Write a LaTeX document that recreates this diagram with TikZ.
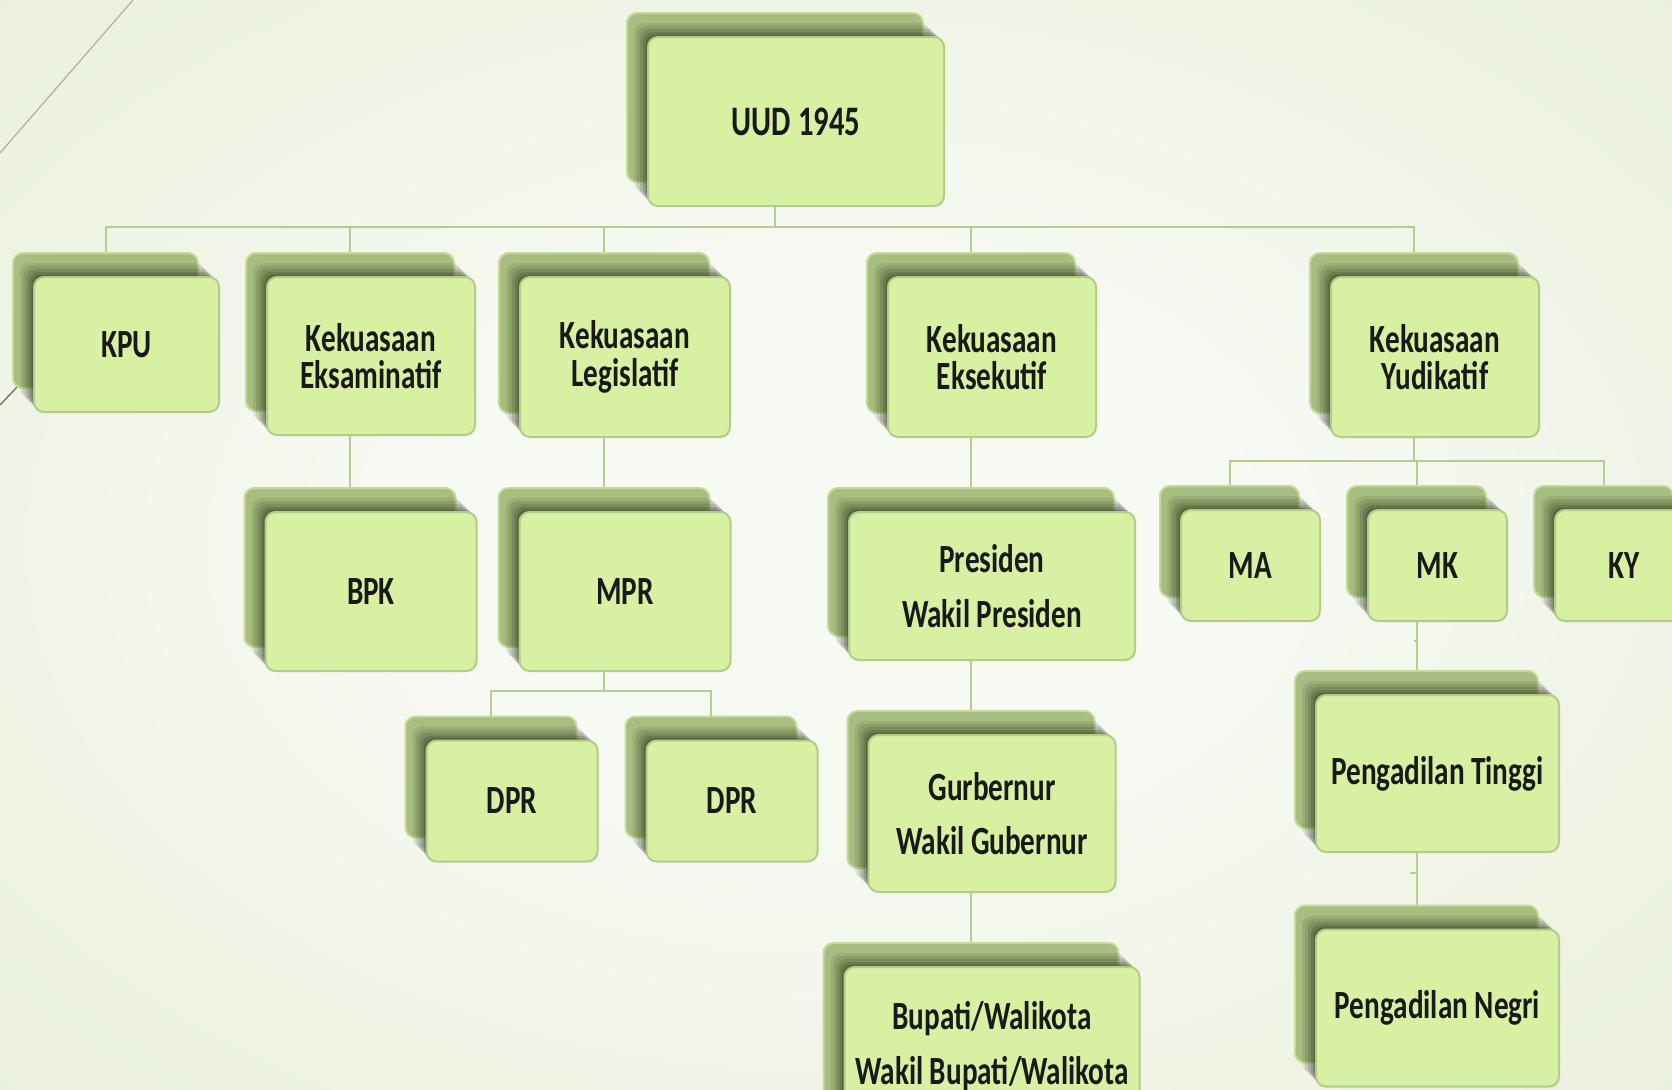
\documentclass[tikz,border=0pt]{standalone}
\usepackage{fontspec}
\usepackage{tikz}
\usetikzlibrary{positioning, shadows}
\newfontfamily\orgfont[FakeStretch=0.73]{Carlito}

\definecolor{frontgreen}{RGB}{216,240,162}
\definecolor{frontedge}{RGB}{178,204,138}
\definecolor{backgreen}{RGB}{168,189,128}
\definecolor{backedge}{RGB}{194,220,150}
\definecolor{shadowdark}{RGB}{36,46,22}
\definecolor{linegreen}{RGB}{181,205,142}
\definecolor{bginner}{RGB}{247,249,243}
\definecolor{bgouter}{RGB}{226,235,206}
\definecolor{decogray}{RGB}{176,176,150}
\definecolor{decodark}{RGB}{110,100,80}

\pgfdeclarelayer{background}
\pgfsetlayers{background,main}
\pgfdeclareradialshading{slidebg}{\pgfpoint{0bp}{0bp}}{color(0bp)=(bginner); color(12bp)=(bginner); color(50bp)=(bgouter)}

\tikzstyle{orgbox}=[rectangle, rounded corners=5pt, draw=frontedge, line width=1pt,
fill=frontgreen, align=center, inner sep=0pt, text=black!90,
font=\orgfont\bfseries\fontsize{20}{18.7}\selectfont,
general shadow={shadow xshift=-10.5pt, shadow yshift=12pt, fill=backgreen, draw=backedge, line width=1pt},
general shadow={shadow xshift=-7pt, shadow yshift=7pt, fill=shadowdark, opacity=.1},
general shadow={shadow xshift=-5.5pt, shadow yshift=5.5pt, fill=shadowdark, opacity=.12},
general shadow={shadow xshift=-4pt, shadow yshift=4pt, fill=shadowdark, opacity=.15},
general shadow={shadow xshift=-2.5pt, shadow yshift=2.5pt, fill=shadowdark, opacity=.2},
general shadow={shadow xshift=-1.2pt, shadow yshift=1.2pt, fill=shadowdark, opacity=.25}]
\tikzstyle{edgepath}=[draw=linegreen, line width=1pt]
\tikzstyle{decoline}=[draw=decogray, line width=0.6pt]
\tikzset{elbow/.style={to path={([xshift=-10.5pt]\tikztostart.center) |- (#1) -| ([xshift=-10.5pt]\tikztotarget.center)}},
drop/.style={to path={([xshift=-10.5pt]\tikztostart.center) -| ([xshift=-10.5pt]\tikztotarget.center)}}}

\begin{document}
\begin{tikzpicture}[x=0.5pt, y=-0.5pt]
    \useasboundingbox (0,0) rectangle (1672,1089);
    \begin{pgfonlayer}{background}
        \shade[shading=slidebg] (0,0) rectangle (1672,1089);
    \end{pgfonlayer}
    \draw[decoline] (133,0) -- (0,153);
    \draw[decoline, draw=decodark] (17,387) -- (0,405);

    \node[orgbox, minimum width=148pt, minimum height=84.5pt,
        font=\orgfont\bfseries\fontsize{21}{24}\selectfont] (uud) at (796,121.5) {UUD 1945};

    \node[orgbox, minimum width=92.5pt, minimum height=67.5pt] (kpu) at (126.5,344.5) {KPU};
    \node[orgbox, minimum width=104pt, minimum height=79pt] (eksam) at (371,356) {Kekuasaan\\Eksaminatif};
    \node[orgbox, minimum width=105pt, minimum height=80pt] (legis) at (625,357) {Kekuasaan\\Legislatif};
    \node[orgbox, minimum width=104pt, minimum height=80pt] (ekse) at (992,357) {Kekuasaan\\Eksekutif};
    \node[orgbox, minimum width=104pt, minimum height=80pt] (yudi) at (1435,357) {Kekuasaan\\Yudikatif};

    \node[orgbox, minimum width=105.5pt, minimum height=79.5pt, below=37.5pt of eksam] (bpk) {BPK};
    \node[orgbox, minimum width=105.5pt, minimum height=79.5pt, below=36.5pt of legis] (mpr) {MPR};
    \node[orgbox, minimum width=85.5pt, minimum height=60.5pt] (dpr1) at (512,801) {DPR};
    \node[orgbox, minimum width=85.5pt, minimum height=60.5pt, right=23.5pt of dpr1] (dpr2) {DPR};

    \node[orgbox, minimum width=143pt, minimum height=74pt, below=36.5pt of ekse] (pres) {Presiden\\[9pt]Wakil Presiden};
    \node[orgbox, minimum width=123.5pt, minimum height=78.5pt, below=36.5pt of pres] (gub) {Gurbernur\\[8.5pt]Wakil Gubernur};
    \node[orgbox, minimum width=147.5pt, minimum height=79pt, below=36.5pt of gub] (bup) {Bupati/Walikota\\[8.5pt]Wakil Bupati/Walikota};

    \node[orgbox, minimum width=69.5pt, minimum height=55.5pt] (ma) at (1250.5,565.5) {MA};
    \node[orgbox, minimum width=69.5pt, minimum height=55.5pt, right=23pt of ma] (mk) {MK};
    \node[orgbox, minimum width=69.5pt, minimum height=55.5pt, right=23pt of mk] (ky) {KY};
    \node[orgbox, minimum width=121.5pt, minimum height=78.5pt, below=36pt of mk] (ptinggi) {Pengadilan Tinggi};
    \node[orgbox, minimum width=121.5pt, minimum height=78.5pt, below=37.75pt of ptinggi] (pnegri) {Pengadilan Negri};

    % connectors, behind the boxes
    \coordinate (topbus) at (775,227);
    \coordinate (mprbus) at (604,691);
    \coordinate (yudbus) at (1414,461);
    \coordinate (mkbus) at (1414,641);
    \coordinate (ptbus) at (1410,873);
    \begin{pgfonlayer}{background}
    \path[edgepath]
        (uud) edge[elbow=topbus] (kpu)
        (uud) edge[elbow=topbus] (eksam)
        (uud) edge[elbow=topbus] (legis)
        (uud) edge[elbow=topbus] (ekse)
        (uud) edge[elbow=topbus] (yudi);
    \path[edgepath]
        (eksam) edge[drop] (bpk)
        (legis) edge[drop] (mpr)
        (mpr) edge[elbow=mprbus] (dpr1)
        (mpr) edge[elbow=mprbus] (dpr2)
        (ekse) edge[drop] (pres)
        (pres) edge[drop] (gub)
        (gub) edge[drop] (bup);
    \path[edgepath]
        (yudi) edge[elbow=yudbus] (ma)
        (yudi) edge[elbow=yudbus] (mk)
        (yudi) edge[elbow=yudbus] (ky)
        (mk) edge[elbow=mkbus] (ptinggi)
        (ptinggi) edge[elbow=ptbus] (pnegri);
    \end{pgfonlayer}
\end{tikzpicture}
\end{document}
